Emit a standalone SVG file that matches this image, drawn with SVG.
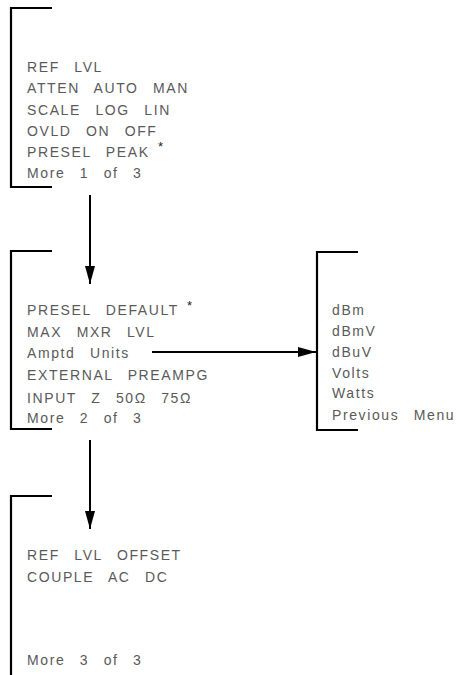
<svg xmlns="http://www.w3.org/2000/svg" width="463" height="675" viewBox="0 0 463 675">
<style>
.br{fill:none;stroke:#000;stroke-width:2.2}
.t{font-family:"Liberation Sans",Arial,sans-serif;font-size:14px;fill:#5a5a5a;letter-spacing:1.6px;word-spacing:9px}
.s{fill:#222;font-size:13px}
.c{stroke:#000;stroke-width:2;fill:none}
</style>
<defs>
<marker id="ah" viewBox="0 0 18 10" refX="18" refY="5" markerWidth="18" markerHeight="10" markerUnits="userSpaceOnUse" orient="auto">
<path d="M0,0 L18,5 L0,10 Z" fill="#000"/>
</marker>
</defs>
<rect width="463" height="675" fill="#fff"/>
<g id="menu1">
<path class="br" d="M52,8 H11 V187 H52"/>
<text class="t" x="27" y="72">REF LVL</text>
<text class="t" x="27" y="93">ATTEN AUTO MAN</text>
<text class="t" x="27" y="115">SCALE LOG LIN</text>
<text class="t" x="27" y="136">OVLD ON OFF</text>
<text class="t" x="27" y="157">PRESEL PEAK</text>
<text class="t s" x="158" y="151">*</text>
<text class="t" x="27" y="178">More 1 of 3</text>
</g>
<g id="menu2">
<path class="br" d="M52,251 H11 V429 H52"/>
<text class="t" x="27" y="315">PRESEL DEFAULT</text>
<text class="t s" x="187" y="310">*</text>
<text class="t" x="27" y="337">MAX MXR LVL</text>
<text class="t" x="27" y="358">Amptd Units</text>
<text class="t" x="27" y="380">EXTERNAL PREAMPG</text>
<text class="t" x="27" y="403">INPUT Z 50Ω 75Ω</text>
<text class="t" x="27" y="423">More 2 of 3</text>
</g>
<g id="units">
<path class="br" d="M358,252 H317 V430 H358"/>
<text class="t" x="332" y="315">dBm</text>
<text class="t" x="332" y="336">dBmV</text>
<text class="t" x="332" y="357">dBuV</text>
<text class="t" x="332" y="378">Volts</text>
<text class="t" x="332" y="398">Watts</text>
<text class="t" x="332" y="420">Previous Menu</text>
</g>
<g id="menu3">
<path class="br" d="M52,496 H11 V675"/>
<text class="t" x="27" y="560">REF LVL OFFSET</text>
<text class="t" x="27" y="582">COUPLE AC DC</text>
<text class="t" x="27" y="665">More 3 of 3</text>
</g>
<g id="connectors">
<line class="c" x1="90" y1="195" x2="90" y2="284" marker-end="url(#ah)"/>
<line class="c" x1="152" y1="352" x2="316" y2="352" marker-end="url(#ah)"/>
<line class="c" x1="90" y1="440" x2="90" y2="529" marker-end="url(#ah)"/>
</g>
</svg>
